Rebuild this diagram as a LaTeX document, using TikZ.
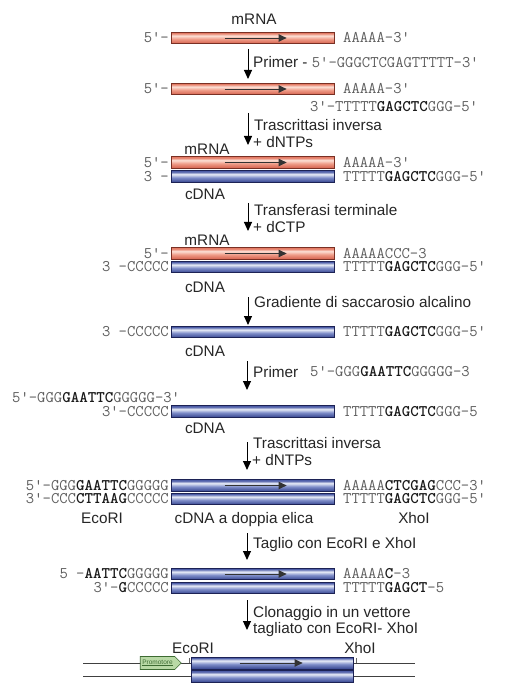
\documentclass[tikz,border=0pt]{standalone}
\usepackage{fontspec}
\setmainfont{Liberation Sans}
\usetikzlibrary{arrows.meta,shapes.symbols}
\definecolor{seqgray}{HTML}{5E5E5E}
\definecolor{seqdark}{HTML}{1A1A1A}
\definecolor{lblgray}{HTML}{262626}
\definecolor{rborder}{HTML}{7A3024}
\definecolor{rA}{HTML}{D4604C}
\definecolor{rB}{HTML}{EE9A86}
\definecolor{rC}{HTML}{FCE0D6}
\definecolor{rD}{HTML}{E47C66}
\definecolor{bborder}{HTML}{1C2255}
\definecolor{bA}{HTML}{34438E}
\definecolor{bB}{HTML}{7D8CC8}
\definecolor{bC}{HTML}{E8ECF7}
\definecolor{bD}{HTML}{4E5EA8}
\definecolor{pfill}{HTML}{B9D9A6}
\definecolor{pborder}{HTML}{3D6B32}
\pgfdeclareverticalshading{redsh}{100bp}{color(0bp)=(rA); color(25bp)=(rA); color(45bp)=(rB); color(60bp)=(rC); color(71bp)=(rD); color(75bp)=(rD); color(100bp)=(rD)}
\pgfdeclareverticalshading{bluesh}{100bp}{color(0bp)=(bA); color(25bp)=(bA); color(45bp)=(bB); color(60bp)=(bC); color(71bp)=(bD); color(75bp)=(bD); color(100bp)=(bD)}
\newcommand{\sqf}{\ttfamily\fontsize{16.2}{18}\selectfont}
\newcommand{\lf}{\fontsize{15.3}{18}\selectfont}
\newcommand{\B}[1]{{\bfseries\color{seqdark}#1}}
\tikzset{
  bar/.style={rectangle, minimum width=163pt, minimum height=11.5pt, inner sep=0pt, line width=0.8pt},
  rbar/.style={bar, draw=rborder, shading=redsh},
  bbar/.style={bar, draw=bborder, shading=bluesh},
  seqL/.style={anchor=east, inner sep=0pt, text height=9.8pt, text depth=0pt, font=\sqf, text=seqgray},
  seqR/.style={anchor=west, inner sep=0pt, text height=9.8pt, text depth=0pt, font=\sqf, text=seqgray},
  lbl/.style={inner sep=0pt, text height=10.9pt, text depth=0pt, font=\lf, text=lblgray},
  lblw/.style={lbl, anchor=west},
  flow/.style={-{Triangle[length=9pt,width=8pt]}, line width=1pt, draw=black},
  inarr/.style={-{Triangle[length=8pt,width=7.5pt]}, line width=0.9pt, draw=black!80},
  vline/.style={line width=0.7pt, draw=black!75},
}
\begin{document}
\begin{tikzpicture}[x=1pt,y=-1pt]
\useasboundingbox[fill=white] (0,0) rectangle (509,692);
% ---------- row 1
\node[lbl] (m1) at (254,19) {mRNA};
\node[rbar] (r1) at (252.5,38) {};
\draw[inarr] ([xshift=54pt]r1.west) -- ([xshift=116pt]r1.west);
\node[seqL] (r1L) at (169,38) {5'-};
\node[seqR] (r1R) at (343,38) {AAAAA-3'};
\coordinate (a1s) at (248,49); \coordinate (a1e) at (248,79);
\draw[flow] (a1s) -- (a1e);
\node[lblw] (t1) at (253,62) {Primer - {\sqf\color{seqgray}5'-GGGCTCGAGTTTTT-3'}};
% ---------- row 2
\node[rbar] (r2) at (252.5,89) {};
\draw[inarr] ([xshift=54pt]r2.west) -- ([xshift=116pt]r2.west);
\node[seqL] (r2L) at (169,89) {5'-};
\node[seqR] (r2R) at (343,89) {AAAAA-3'};
\node[seqR] (r2R2) at (310,107) {3'-TTTTT\B{GAGCTC}GGG-5'};
\coordinate (a2s) at (248,113); \coordinate (a2e) at (248,145);
\draw[flow] (a2s) -- (a2e);
\node[lblw] (t2a) at (254,125) {Trascrittasi inversa};
\node[lblw] (t2b) at (253,142) {+ dNTPs};
% ---------- row 3
\node[lbl] (m3) at (207,149) {mRNA};
\node[rbar] (r3) at (252.5,162.5) {};
\draw[inarr] ([xshift=54pt]r3.west) -- ([xshift=116pt]r3.west);
\node[bbar] (b3) at (252.5,176.5) {};
\node[seqL] (r3L) at (169,162.5) {5'-};
\node[seqL] (b3L) at (169,176.5) {3\ -};
\node[seqR] (r3R) at (343,162.5) {AAAAA-3'};
\node[seqR] (b3R) at (343,176.5) {TTTTT\B{GAGCTC}GGG-5'};
\node[lbl] (c3) at (205,194) {cDNA};
\coordinate (a3s) at (248,203); \coordinate (a3e) at (248,231);
\draw[flow] (a3s) -- (a3e);
\node[lblw] (t3a) at (254,210) {Transferasi terminale};
\node[lblw] (t3b) at (253,227) {+ dCTP};
% ---------- row 4
\node[lbl] (m4) at (207,240) {mRNA};
\node[rbar] (r4) at (252.5,253.5) {};
\draw[inarr] ([xshift=54pt]r4.west) -- ([xshift=116pt]r4.west);
\node[bbar] (b4) at (252.5,267) {};
\node[seqL] (r4L) at (169,253.5) {5'-};
\node[seqL] (b4L) at (169,267) {3\ -CCCCC};
\node[seqR] (r4R) at (343,253.5) {AAAAACCC-3};
\node[seqR] (b4R) at (343,267) {TTTTT\B{GAGCTC}GGG-5'};
\node[lbl] (c4) at (205,287) {cDNA};
\coordinate (a4s) at (248,297); \coordinate (a4e) at (248,325);
\draw[flow] (a4s) -- (a4e);
\node[lblw] (t4) at (254,302) {Gradiente di saccarosio alcalino};
% ---------- row 5
\node[bbar] (b5) at (252.5,332) {};
\node[seqL] (b5L) at (169,332) {3\ -CCCCC};
\node[seqR] (b5R) at (343,332) {TTTTT\B{GAGCTC}GGG-5'};
\node[lbl] (c5) at (205,351) {cDNA};
\coordinate (a5s) at (247,361); \coordinate (a5e) at (247,390);
\draw[flow] (a5s) -- (a5e);
\node[lblw] (t5) at (253,372) {Primer};
\node[seqR] (t5s) at (310,372) {5'-GGG\B{GAATTC}GGGGG-3};
% ---------- row 6
\node[seqR] (p6) at (12,398) {5'-GGG\B{GAATTC}GGGGG-3'};
\node[bbar] (b6) at (252.5,411.5) {};
\node[seqL] (b6L) at (169,411.5) {3'-CCCCC};
\node[seqR] (b6R) at (343,411.5) {TTTTT\B{GAGCTC}GGG-5};
\node[lbl] (c6) at (205,428) {cDNA};
\coordinate (a6s) at (247,442); \coordinate (a6e) at (247,470);
\draw[flow] (a6s) -- (a6e);
\node[lblw] (t6a) at (253,443) {Trascrittasi inversa};
\node[lblw] (t6b) at (252,460) {+ dNTPs};
% ---------- row 7
\node[bbar] (b7a) at (252.5,485.5) {};
\draw[inarr] ([xshift=54pt]b7a.west) -- ([xshift=116pt]b7a.west);
\node[bbar] (b7b) at (252.5,499) {};
\node[seqL] (b7aL) at (169,485.5) {5'-GGG\B{GAATTC}GGGGG};
\node[seqL] (b7bL) at (169,499) {3'-CCC\B{CTTAAG}CCCCC};
\node[seqR] (b7aR) at (343,485.5) {AAAAA\B{CTCGAG}CCC-3'};
\node[seqR] (b7bR) at (343,499) {TTTTT\B{GAGCTC}GGG-5'};
\node[lbl] (e7) at (102,518) {EcoRI};
\node[lbl] (c7) at (244,518) {cDNA a doppia elica};
\node[lbl] (x7) at (414,518) {XhoI};
\coordinate (a7s) at (247,533); \coordinate (a7e) at (247,560);
\draw[flow] (a7s) -- (a7e);
\node[lblw] (t7) at (253,543) {Taglio con EcoRI e XhoI};
% ---------- row 8
\node[bbar] (b8a) at (252.5,574) {};
\draw[inarr] ([xshift=54pt]b8a.west) -- ([xshift=116pt]b8a.west);
\node[bbar] (b8b) at (252.5,588) {};
\node[seqL] (b8aL) at (169,574) {5\ -\B{AATTC}GGGGG};
\node[seqL] (b8bL) at (169,588) {3'-\B{G}CCCCC};
\node[seqR] (b8aR) at (343,574) {AAAAA\B{C}-3};
\node[seqR] (b8bR) at (343,588) {TTTTT\B{GAGCT}-5};
\coordinate (a8s) at (247,600); \coordinate (a8e) at (247,630);
\draw[flow] (a8s) -- (a8e);
\node[lblw] (t8a) at (253,612) {Clonaggio in un vettore};
\node[lblw] (t8b) at (253,628) {tagliato con EcoRI- XhoI};
% ---------- vector
\node[lbl] (e9) at (193,648) {EcoRI};
\node[lbl] (x9) at (360,648) {XhoI};
\coordinate (l1a) at (83,663); \coordinate (l1b) at (415,663);
\coordinate (l2a) at (83,676); \coordinate (l2b) at (415,676);
\draw[vline] (l1a) -- (l1b);
\draw[vline] (l2a) -- (l2b);
\coordinate (k1a) at (189,658); \coordinate (k1b) at (189,663);
\coordinate (k2a) at (356,658); \coordinate (k2b) at (356,663);
\draw[line width=0.5pt, draw=black!60] (k1a) -- (k1b);
\draw[line width=0.5pt, draw=black!60] (k2a) -- (k2b);
\node[bbar, minimum width=162pt, minimum height=12pt] (v1) at (272,663) {};
\draw[inarr] ([xshift=49pt]v1.west) -- ([xshift=112pt]v1.west);
\node[bbar, minimum width=162pt, minimum height=11.5pt] (v2) at (272,676.5) {};
\node[signal, signal to=east, draw=pborder, fill=pfill, line width=0.6pt, minimum width=41pt, minimum height=13pt, inner sep=0.5pt, font=\fontsize{6.5}{7}\selectfont, text=pborder] (prom) at (157.5,663) {\underline{Promotore}};
\end{tikzpicture}
\end{document}
